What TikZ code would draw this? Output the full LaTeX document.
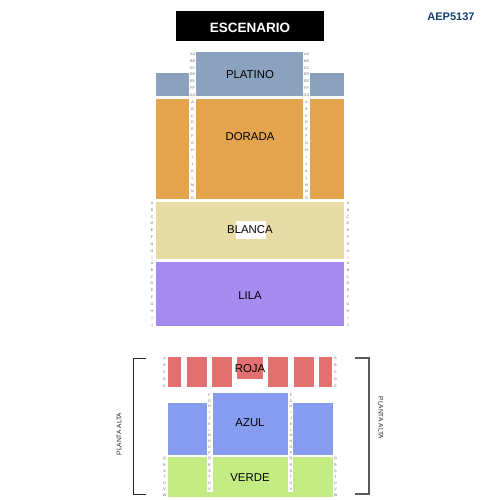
\documentclass[tikz,border=0pt]{standalone}
\usepackage{fontspec}
\setmainfont{Liberation Sans}
\usepackage{xcolor}
\definecolor{platino}{HTML}{8AA2BE}
\definecolor{dorada}{HTML}{E4A44D}
\definecolor{blanca}{HTML}{E8DCA6}
\definecolor{lila}{HTML}{A58BEF}
\definecolor{roja}{HTML}{E27070}
\definecolor{azul}{HTML}{869DEF}
\definecolor{verde}{HTML}{C3EC85}
\definecolor{codeblue}{HTML}{123F70}
\usepackage{tikz}

\begin{document}
\begin{tikzpicture}[
  x=1pt, y=-1pt,
  zone/.style={font=\fontsize{11.4}{13}\selectfont, text=black, inner sep=0pt},
  rowlabel/.style={font=\fontsize{3.6}{4}\selectfont, text=black!60, inner sep=0pt},
  side/.style={font=\fontsize{6.6}{8}\selectfont, text=black!85, inner sep=0pt},
  bracket/.style={draw=black!85, line width=1pt},
]
\useasboundingbox (0,0) rectangle (500,500);

% stage
\fill[black] (176,11) rectangle (324,41);
\node[font=\fontsize{13.5}{16}\selectfont\bfseries, text=white, inner sep=0pt] (escenario) at (250,27.5) {ESCENARIO};
\node[font=\fontsize{11}{13}\selectfont\bfseries, text=codeblue, inner sep=0pt] (codigo) at (451,17) {AEP5137};

% planta baja
\fill[platino] (196,52) rectangle (303,96);
\fill[platino] (156,73) rectangle (189,96);
\fill[platino] (310,73) rectangle (344,96);
\fill[dorada] (156,99) rectangle (189,199);
\fill[dorada] (196,99) rectangle (303,199);
\fill[dorada] (310,99) rectangle (344,199);
\fill[blanca] (156,202) rectangle (344,259);
\fill[white] (236,221) rectangle (266,239);
\fill[lila] (156,262) rectangle (344,326);

% planta alta
\foreach \xa/\xb in {168/181, 187/207, 212/232, 268/288, 294/314, 319/332}
  \fill[roja] (\xa,357) rectangle (\xb,387);
\fill[roja] (237,357) rectangle (263,379);
\fill[azul] (213,393) rectangle (288,455);
\fill[azul] (168,403) rectangle (207,455);
\fill[azul] (293,403) rectangle (333,455);
\fill[verde] (168,457) rectangle (333,497);
\fill[white] (207,457) rectangle (213,492);
\fill[white] (288,457) rectangle (293,492);

\node[zone] (platinoL) at (250,75) {PLATINO};
\node[zone] (doradaL) at (250,137) {DORADA};
\node[zone] (blancaL) at (250,229.5) {BLANCA};
\node[zone] (lilaL) at (250,295.5) {LILA};
\node[zone] (rojaL) at (250,368.5) {ROJA};
\node[zone] (azulL) at (250,422.5) {AZUL};
\node[zone] (verdeL) at (250,477.5) {VERDE};

% row letters
\foreach \x in {192.5, 306.5} {
  \foreach \r [count=\i from 0] in {AA,BB,CC,DD,EE,FF,GG}
    \node[rowlabel] at (\x,54+6.9*\i) {\r};
  \foreach \r [count=\i from 0] in {A,B,C,D,E,F,G,H,I,J,K,L,M,N,O}
    \node[rowlabel] at (\x,102+6.9*\i) {\r};
}
\foreach \x in {152, 348} {
  \foreach \r [count=\i from 0] in {A,B,C,D,E,F,G,H,I}
    \node[rowlabel] at (\x,203+6.9*\i) {\r};
  \foreach \r [count=\i from 0] in {A,B,C,D,E,F,G,H,I,J}
    \node[rowlabel] at (\x,263+6.9*\i) {\r};
}
\foreach \x in {164.5, 335.5} {
  \foreach \r [count=\i from 0] in {A,B,C,D,E}
    \node[rowlabel] at (\x,358+7*\i) {\r};
  \foreach \r [count=\i from 0] in {Q,R,S,T,U,V,W}
    \node[rowlabel] at (\x,459+6*\i) {\r};
}
\foreach \x in {209.5, 291} {
  \foreach \r [count=\i from 0] in {F,G,H,I,J,K,L,M,N,O,P}
    \node[rowlabel] at (\x,395+5.8*\i) {\r};
  \foreach \r [count=\i from 0] in {Q,R,S,T,U,V}
    \node[rowlabel] at (\x,459+6*\i) {\r};
}

% brackets
\coordinate (la) at (146,358);
\coordinate (lb) at (133,358);
\coordinate (lc) at (133,494);
\coordinate (ld) at (146,494);
\draw[bracket] (la) -- (lb) -- (lc) -- (ld);
\coordinate (ra) at (355,358);
\coordinate (rb) at (369,358);
\coordinate (rc) at (369,494);
\coordinate (rd) at (355,494);
\draw[bracket, draw=black!65, line width=1.3pt] (ra) -- (rb) -- (rc) -- (rd);

\node[side, rotate=90] (altaL) at (119,434) {PLANTA ALTA};
\node[side, rotate=-90] (altaR) at (381,418) {PLANTA ALTA};

\end{tikzpicture}
\end{document}
